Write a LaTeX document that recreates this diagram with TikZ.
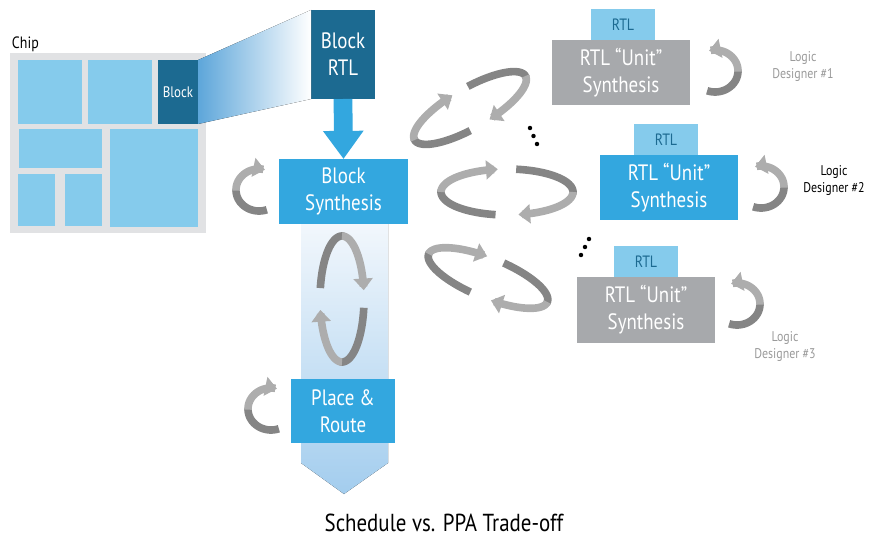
\documentclass[tikz,border=0pt]{standalone}
\usepackage{fontspec}
\setmainfont[FakeStretch=0.85]{PT Sans}
\usetikzlibrary{arrows.meta}
\definecolor{darkblue}{HTML}{1C6A91}
\definecolor{midblue}{HTML}{33A7DF}
\definecolor{paleblue}{HTML}{85CBEC}
\definecolor{unitgray}{HTML}{A7A9AC}
\definecolor{chipgray}{HTML}{E1E2E4}
\definecolor{wedgeblue}{HTML}{5DA6DA}
\definecolor{colltop}{HTML}{F2F7FC}
\definecolor{collbot}{HTML}{A3CDEE}
\definecolor{ribdark}{HTML}{858585}
\definecolor{riblight}{HTML}{ADADAD}
\definecolor{notegray}{HTML}{9A9A9A}
\newcommand{\px}{0.03cm}
% ellipse loop: centre x, centre y, half axis a, half axis b, tilt
\newcommand{\ribbonloop}[5]{%
  \foreach \sa/\ea/\col/\tip in {100/185/ribdark/,180/262/riblight/ribtip,278/365/ribdark/,360/440/riblight/ribtip}
    \draw[ribbonline,\col,\tip] plot[domain=\sa:\ea] ({#1+#3*cos(\x)*cos(#5)-#4*sin(\x)*sin(#5)},{#2+#3*cos(\x)*sin(#5)+#4*sin(\x)*cos(#5)});
}
% half loop beside a box: centre x, centre y, side (1 opens right, -1 opens left)
\newcommand{\turnloop}[3]{%
  \draw[ribbonline,ribdark] plot[domain=70:182] ({#1+(#3)*23*cos(\x)},{#2+21*sin(\x)});
  \draw[ribbonline,riblight,ribtip] plot[domain=178:285] ({#1+(#3)*23*cos(\x)},{#2+21*sin(\x)});
}
\begin{document}
\begin{tikzpicture}[x=\px,y=-\px,inner sep=0pt,outer sep=0pt,
boxsize/.style 2 args={minimum width=#1*\px,minimum height=#2*\px},
bluebox/.style={rectangle,fill=midblue,text=white,align=center,font=\fontsize{19}{23}\selectfont},
darkbox/.style={bluebox,fill=darkblue},
unitbox/.style={bluebox,fill=unitgray},
tab/.style={rectangle,fill=paleblue,text=darkblue,font=\fontsize{14}{16}\selectfont,boxsize={64}{31}},
note/.style={align=center,font=\fontsize{12}{14.5}\selectfont},
ribbonline/.style={line width=6.5pt},
ribtip/.style={-{Triangle[length=10pt,width=16pt]}}]
\useasboundingbox (0,0) rectangle (877,537);

% chip floorplan
\draw (108,143) node[fill=chipgray,boxsize={196}{180}] (chip) {};
\draw (chip.north west) ++(2,-1) node[anchor=south west,font=\fontsize{14}{16}\selectfont] (chiplbl) {Chip};
\foreach \xa/\ya/\xb/\yb in {18/60/82/124,88/60/152/124,19/129/102/168,110/129/198/227,18/174/55/226,65/174/102/226}
  \fill[paleblue] (\xa,\ya) rectangle (\xb,\yb);
\draw (178,92) node[darkbox,boxsize={40}{64},font=\fontsize{13}{15}\selectfont] (blk) {Block};

\draw (343,54.5) node[darkbox,boxsize={64}{89}] (rtl) {Block\\RTL};
\fill[left color=wedgeblue,right color=white] (blk.north east) -- (rtl.north west) -- (rtl.south west) -- (blk.south east) -- cycle;

\draw (343.5,191.5) node[bluebox,boxsize={129}{65}] (bsyn) {Block\\Synthesis};
\draw[line width=16pt,midblue,-{Triangle[length=24pt,width=33pt]}] (rtl.south) -- (bsyn.north);

\fill[top color=colltop,bottom color=collbot] (301,224) -- (388,224) -- (388,463) -- (344,494) -- (301,463) -- cycle;
\draw (343,411) node[bluebox,boxsize={104}{64}] (pnr) {Place \&\\Route};

\ribbonloop{342}{299}{63}{22}{90}
\ribbonloop{470}{108}{64}{20}{-30}
\ribbonloop{507}{192}{66}{23}{0}
\ribbonloop{488}{278}{64}{20}{22}
\turnloop{259}{190}{1}
\turnloop{271}{409}{1}
\turnloop{715}{71}{-1}
\turnloop{761}{187}{-1}
\turnloop{737}{304}{-1}

\draw (621,72.5) node[unitbox,boxsize={138}{65}] (unit1) {RTL “Unit”\\Synthesis};
\draw (unit1.north) ++(2,0) node[tab,anchor=south] (tab1) {RTL};
\draw (669,187.5) node[bluebox,boxsize={138}{65}] (unit2) {RTL “Unit”\\Synthesis};
\draw (unit2.north) ++(-3,0) node[tab,anchor=south] (tab2) {RTL};
\draw (646,310) node[unitbox,boxsize={138}{66}] (unit3) {RTL “Unit”\\Synthesis};
\draw (unit3.north) node[tab,anchor=south] (tab3) {RTL};

\foreach \p in {(530,128),(533.5,136),(537,144),(589,239),(585,247),(581,255)}
  \fill \p circle[radius=1.9pt];

\draw (803,67) node[note,text=notegray] (des1) {Logic\\Designer \#1};
\draw (834,181) node[note] (des2) {Logic\\Designer \#2};
\draw (785,347) node[note,text=notegray] (des3) {Logic\\Designer \#3};

\draw (444,523) node[font=\fontsize{21}{25}\selectfont] (caption) {Schedule vs. PPA Trade-off};
\end{tikzpicture}
\end{document}
